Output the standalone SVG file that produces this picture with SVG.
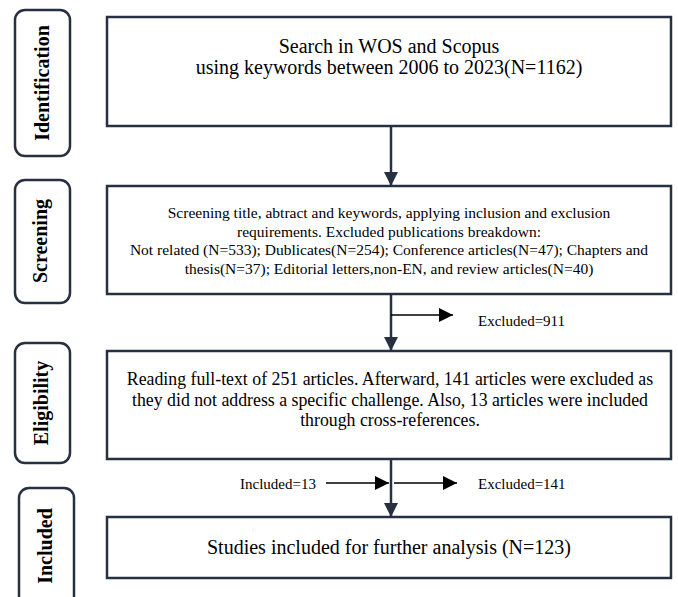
<svg xmlns="http://www.w3.org/2000/svg" width="678" height="597" viewBox="0 0 678 597">
<style>
.box{fill:#fff;stroke:#263040;stroke-width:2.5}
.side{fill:#fff;stroke:#263040;stroke-width:2.5}
.t{font-family:"Liberation Serif","Times New Roman",serif;fill:#000;text-anchor:middle}
.lab{font-family:"Liberation Serif","Times New Roman",serif;font-weight:bold;font-size:20px;fill:#000;text-anchor:middle}
.sm{font-family:"Liberation Serif","Times New Roman",serif;font-size:15px;fill:#000}
.ln{stroke:#263040;stroke-width:2.5;fill:none}
.thin{stroke:#000;stroke-width:1.5;fill:none}
</style>
<defs>
<marker id="ah" markerUnits="userSpaceOnUse" markerWidth="14" markerHeight="14" viewBox="0 0 14 14" refX="14" refY="7" orient="auto">
<path d="M0,0 L14,7 L0,14 Z" fill="#263040"/>
</marker>
<marker id="ahk" markerUnits="userSpaceOnUse" markerWidth="14" markerHeight="14" viewBox="0 0 14 14" refX="14" refY="7" orient="auto">
<path d="M0,0 L14,7 L0,14 Z" fill="#000"/>
</marker>
</defs>
<rect width="678" height="597" fill="#fff"/>
<g id="stage-identification">
<rect class="side" x="15" y="10" width="55" height="146" rx="10"/>
<text class="lab" transform="translate(49,83) rotate(-90)">Identification</text>
</g>
<g id="stage-screening">
<rect class="side" x="15" y="180" width="55" height="123" rx="10"/>
<text class="lab" transform="translate(47,241) rotate(-90)">Screening</text>
</g>
<g id="stage-eligibility">
<rect class="side" x="15" y="343" width="55" height="120" rx="10"/>
<text class="lab" transform="translate(48,403) rotate(-90)">Eligibility</text>
</g>
<g id="stage-included">
<rect class="side" x="19" y="488" width="55" height="130" rx="10"/>
<text class="lab" transform="translate(52,546) rotate(-90)">Included</text>
</g>
<g id="box-search">
<rect class="box" x="107" y="17" width="564" height="109"/>
<text class="t" font-size="20" x="389" y="53">Search in WOS and Scopus</text>
<text class="t" font-size="20" x="389" y="74">using keywords between 2006 to 2023(N=1162)</text>
</g>
<g id="box-screening">
<rect class="box" x="107" y="186" width="564" height="108"/>
<text class="t" font-size="15.5" x="389" y="218">Screening title, abtract and keywords, applying inclusion and exclusion</text>
<text class="t" font-size="15.5" x="389" y="236.5">requirements. Excluded publications breakdown:</text>
<text class="t" font-size="15.5" x="389" y="255">Not related (N=533); Dublicates(N=254); Conference articles(N=47); Chapters and</text>
<text class="t" font-size="15.5" x="389" y="273.5">thesis(N=37); Editorial letters,non-EN, and review articles(N=40)</text>
</g>
<g id="box-eligibility">
<rect class="box" x="107" y="351" width="564" height="108"/>
<text class="t" font-size="17.8" x="390" y="385">Reading full-text of 251 articles. Afterward, 141 articles were excluded as</text>
<text class="t" font-size="17.8" x="390" y="405.5">they did not address a specific challenge. Also, 13 articles were included</text>
<text class="t" font-size="17.8" x="390" y="426">through cross-references.</text>
</g>
<g id="box-included">
<rect class="box" x="107" y="517" width="564" height="61"/>
<text class="t" font-size="20" x="389" y="554">Studies included for further analysis (N=123)</text>
</g>
<g id="connectors">
<line class="ln" x1="391" y1="126" x2="391" y2="186" marker-end="url(#ah)"/>
<line class="ln" x1="391" y1="294" x2="391" y2="351" marker-end="url(#ah)"/>
<line class="thin" x1="391" y1="315" x2="453" y2="315" marker-end="url(#ahk)"/>
<line class="ln" x1="391" y1="459" x2="391" y2="517" marker-end="url(#ah)"/>
<line class="thin" x1="326" y1="483" x2="389" y2="483" marker-end="url(#ahk)"/>
<line class="thin" x1="394" y1="483" x2="457" y2="483" marker-end="url(#ahk)"/>
<text class="sm" x="478" y="326">Excluded=911</text>
<text class="sm" x="240" y="489">Included=13</text>
<text class="sm" x="478" y="489">Excluded=141</text>
</g>
</svg>
